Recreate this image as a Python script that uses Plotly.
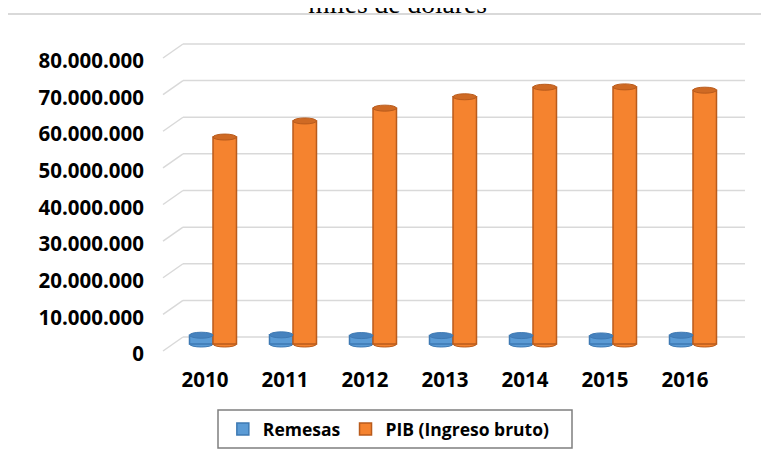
import plotly.graph_objects as go

# ---- data ----
years = ["2010", "2011", "2012", "2013", "2014", "2015", "2016"]
remesas = [2400000, 2500000, 2300000, 2300000, 2300000, 2200000, 2400000]
pib = [56500000, 60900000, 64400000, 67500000, 70100000, 70200000, 69300000]
y_ticks = [0, 10000000, 20000000, 30000000, 40000000, 50000000, 60000000, 70000000, 80000000]
series_names = ["Remesas", "PIB (Ingreso bruto)"]
title_text = "-miles de dolares-"

# ---- styles ----
BLUE, BLUE_EDGE, BLUE_CAP = "#5B9BD5", "#3E79B3", "#4682BE"
ORANGE, ORANGE_EDGE, ORANGE_CAP = "#F5832F", "#B95B1C", "#CF6A24"
GRID = "#D9D9D9"
FONT = "Open Sans"
BAR_PX = 23.5

fig = go.Figure()
fig.add_trace(go.Bar(x=years, y=remesas, name=series_names[0],
                     marker=dict(color=BLUE, line=dict(color=BLUE_EDGE, width=1.5))))
fig.add_trace(go.Bar(x=years, y=pib, name=series_names[1],
                     marker=dict(color=ORANGE, line=dict(color=ORANGE_EDGE, width=1.5))))

shapes = []
# perspective gridlines (back wall line + diagonal floor stub)
for v in y_ticks:
    shapes.append(dict(type="line", xref="paper", xsizemode="pixel", xanchor=0, x0=10, x1=572,
                       yref="y", ysizemode="pixel", yanchor=v, y0=7, y1=7,
                       line=dict(color=GRID, width=1.5), layer="below"))
    shapes.append(dict(type="line", xref="paper", xsizemode="pixel", xanchor=0, x0=-10, x1=10,
                       yref="y", ysizemode="pixel", yanchor=v, y0=-7, y1=7,
                       line=dict(color=GRID, width=1.5), layer="below"))

# cylinder caps and rounded bottoms (anchored on category index)
for i, (r, p) in enumerate(zip(remesas, pib)):
    for val, xa, xb, fill, edge, cap in [(r, -BAR_PX, 0, BLUE, BLUE_EDGE, BLUE_CAP),
                                         (p, 0, BAR_PX, ORANGE, ORANGE_EDGE, ORANGE_CAP)]:
        shapes.append(dict(type="circle", xref="x", xsizemode="pixel", xanchor=i, x0=xa, x1=xb,
                           yref="y", ysizemode="pixel", yanchor=0, y0=-3, y1=3,
                           fillcolor=fill, line=dict(color=edge, width=1), layer="below"))
        shapes.append(dict(type="circle", xref="x", xsizemode="pixel", xanchor=i, x0=xa, x1=xb,
                           yref="y", ysizemode="pixel", yanchor=val, y0=-3, y1=3,
                           fillcolor=cap, line=dict(color=edge, width=1), layer="above"))

# outer chart frame
shapes.append(dict(type="rect", xref="paper", yref="paper", xsizemode="pixel", ysizemode="pixel",
                   xanchor=0, yanchor=0, x0=-166, x1=602, y0=-96, y1=341,
                   line=dict(color=GRID, width=2), fillcolor="rgba(0,0,0,0)", layer="below"))
# legend box
shapes.append(dict(type="rect", xref="paper", yref="paper", xsizemode="pixel", ysizemode="pixel",
                   xanchor=0, yanchor=0, x0=45, x1=399, y0=-93, y1=-55,
                   line=dict(color="#7F7F7F", width=1.5), fillcolor="rgba(0,0,0,0)", layer="below"))

# the page body adds an 8px offset, so margins are reduced by 8 on left/top
fig.update_layout(
    width=769, height=450, autosize=False,
    margin=dict(l=165, r=44, t=32, b=103, autoexpand=False),
    paper_bgcolor="white", plot_bgcolor="white",
    separators=",.",
    barmode="group", bargap=0.4125, bargroupgap=0,
    shapes=shapes,
    showlegend=True,
    legend=dict(orientation="h", x=0.089, xanchor="left", y=-0.235, yanchor="middle",
                font=dict(family=FONT, size=17.5, color="black", weight="bold"),
                bgcolor="rgba(0,0,0,0)", borderwidth=0),
    xaxis=dict(type="category", range=[-0.5, 6.5], showgrid=False, showline=False, zeroline=False,
               ticks="", automargin=False,
               tickfont=dict(family=FONT, size=20.5, color="black", weight="bold"),
               ticklabelshift=-8, ticklabelstandoff=10, fixedrange=True),
    yaxis=dict(range=[-3000000, 83000000], tickvals=y_ticks, tickformat=",d",
               showgrid=False, showline=False, zeroline=False, ticks="", automargin=False,
               tickfont=dict(family=FONT, size=20.5, color="black", weight="bold"),
               ticklabelshift=10, ticklabelstandoff=28, fixedrange=True),
    annotations=[dict(text=title_text, xref="paper", yref="paper", x=0.4, y=1,
                      xanchor="center", yanchor="bottom", yshift=19, showarrow=False,
                      font=dict(family="Liberation Serif", size=27.5, color="black"))],
)

fig.write_html("out.html")
